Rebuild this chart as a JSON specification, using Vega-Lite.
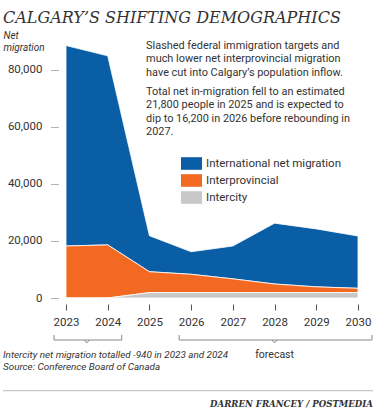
{
  "$schema": "https://vega.github.io/schema/vega-lite/v6.json",
  "width": 292,
  "height": 257,
  "autosize": {"type": "none"},
  "padding": {"left": 66, "top": 41, "right": 17, "bottom": 120},
  "background": "white",
  "config": {"view": {"stroke": null}, "font": "Roboto"},
  "title": {
    "text": "CALGARY’S SHIFTING DEMOGRAPHICS",
    "anchor": "start",
    "frame": "group",
    "font": "DejaVu Serif",
    "fontStyle": "italic",
    "fontWeight": "normal",
    "fontSize": 16,
    "color": "#333333",
    "dx": -63,
    "dy": 11,
    "baseline": "alphabetic",
    "offset": 2
  },
  "layer": [
    {
      "data": {
        "values": [
          {"year": 2023, "type": "International net migration", "value": 70200, "order": 3},
          {"year": 2024, "type": "International net migration", "value": 66200, "order": 3},
          {"year": 2025, "type": "International net migration", "value": 12600, "order": 3},
          {"year": 2026, "type": "International net migration", "value": 7900, "order": 3},
          {"year": 2027, "type": "International net migration", "value": 11500, "order": 3},
          {"year": 2028, "type": "International net migration", "value": 21300, "order": 3},
          {"year": 2029, "type": "International net migration", "value": 20300, "order": 3},
          {"year": 2030, "type": "International net migration", "value": 18300, "order": 3},
          {"year": 2023, "type": "Interprovincial", "value": 18200, "order": 2},
          {"year": 2024, "type": "Interprovincial", "value": 18600, "order": 2},
          {"year": 2025, "type": "Interprovincial", "value": 7300, "order": 2},
          {"year": 2026, "type": "Interprovincial", "value": 6400, "order": 2},
          {"year": 2027, "type": "Interprovincial", "value": 4800, "order": 2},
          {"year": 2028, "type": "Interprovincial", "value": 3000, "order": 2},
          {"year": 2029, "type": "Interprovincial", "value": 2000, "order": 2},
          {"year": 2030, "type": "Interprovincial", "value": 1500, "order": 2},
          {"year": 2023, "type": "Intercity", "value": 0, "order": 1},
          {"year": 2024, "type": "Intercity", "value": 0, "order": 1},
          {"year": 2025, "type": "Intercity", "value": 1900, "order": 1},
          {"year": 2026, "type": "Intercity", "value": 1900, "order": 1},
          {"year": 2027, "type": "Intercity", "value": 1900, "order": 1},
          {"year": 2028, "type": "Intercity", "value": 1900, "order": 1},
          {"year": 2029, "type": "Intercity", "value": 1900, "order": 1},
          {"year": 2030, "type": "Intercity", "value": 1900, "order": 1}
        ]
      },
      "mark": {"type": "area", "stroke": "white", "strokeWidth": 0.8, "opacity": 1},
      "encoding": {
        "x": {
          "field": "year",
          "type": "quantitative",
          "scale": {"domain": [2023, 2030], "nice": false},
          "axis": {
            "values": [2023, 2024, 2025, 2026, 2027, 2028, 2029, 2030],
            "format": "d",
            "domain": false,
            "grid": false,
            "offset": 6,
            "tickSize": 6,
            "tickColor": "#555555",
            "labelPadding": 6,
            "labelFlush": false,
            "labelOverlap": false,
            "labelFontSize": 11.5,
            "labelColor": "#333333",
            "labelFont": "Roboto",
            "title": null
          }
        },
        "y": {
          "field": "value",
          "type": "quantitative",
          "stack": "zero",
          "scale": {"domain": [0, 90000], "nice": false},
          "axis": {
            "values": [0, 20000, 40000, 60000, 80000],
            "format": ",d",
            "domain": false,
            "grid": false,
            "offset": 8,
            "tickSize": 7,
            "tickDash": [1, 1],
            "tickColor": "#666666",
            "labelPadding": 9,
            "labelFlush": false,
            "labelOverlap": false,
            "labelFontSize": 11.5,
            "labelColor": "#333333",
            "labelFont": "Roboto",
            "title": ["Net", "migration"],
            "titleAngle": 0,
            "titleAlign": "left",
            "titleBaseline": "alphabetic",
            "titleX": -55,
            "titleY": -3,
            "titleFont": "Roboto",
            "titleFontStyle": "italic",
            "titleFontWeight": "normal",
            "titleFontSize": 10,
            "titleLineHeight": 12,
            "titleColor": "#333333"
          }
        },
        "color": {
          "field": "type",
          "type": "nominal",
          "scale": {
            "domain": ["International net migration", "Interprovincial", "Intercity"],
            "range": ["#0a5ea5", "#f26a22", "#c8c8c8"]
          },
          "legend": {
            "orient": "none",
            "legendX": 115,
            "legendY": 112,
            "title": null,
            "padding": 0,
            "symbolType": "M-1,-0.6L1,-0.6L1,0.6L-1,0.6Z",
            "symbolSize": 441,
            "symbolStrokeWidth": 0,
            "symbolOpacity": 1,
            "labelFont": "Roboto",
            "labelFontSize": 11.5,
            "labelColor": "#333333",
            "labelOffset": 4,
            "rowPadding": 0
          }
        },
        "order": {"field": "order", "type": "quantitative", "sort": "ascending"}
      }
    },
    {
      "data": {"values": [{"note": "Slashed federal immigration targets and\nmuch lower net interprovincial migration\nhave cut into Calgary’s population inflow."}]},
      "mark": {"type": "text", "align": "left", "baseline": "alphabetic", "lineBreak": "\n", "lineHeight": 13.3, "fontSize": 10.9, "color": "#333333"},
      "encoding": {
        "x": {"datum": 2024.92},
        "y": {"datum": 87200},
        "text": {"field": "note"}
      }
    },
    {
      "data": {"values": [{"note": "Total net in-migration fell to an estimated\n21,800 people in 2025 and is expected to\ndip to 16,200 in 2026 before rebounding in\n2027."}]},
      "mark": {"type": "text", "align": "left", "baseline": "alphabetic", "lineBreak": "\n", "lineHeight": 13.3, "fontSize": 10.9, "color": "#333333"},
      "encoding": {
        "x": {"datum": 2024.92},
        "y": {"datum": 71100},
        "text": {"field": "note"}
      }
    },
    {
      "data": {"values": [
        {"period": "2023–2024", "from": 2023, "to": 2024, "mid": 2023.5},
        {"period": "forecast", "from": 2026, "to": 2030, "mid": 2028}
      ]},
      "layer": [
        {
          "mark": {"type": "rule", "color": "#888888", "strokeWidth": 1, "xOffset": -12, "x2Offset": 14},
          "encoding": {
            "x": {"field": "from", "type": "quantitative"},
            "x2": {"field": "to"},
            "y": {"datum": -14710}
          }
        },
        {
          "mark": {"type": "rule", "color": "#888888", "strokeWidth": 1, "xOffset": -12},
          "encoding": {
            "x": {"field": "from", "type": "quantitative"},
            "y": {"datum": -12960},
            "y2": {"datum": -14710}
          }
        },
        {
          "mark": {"type": "rule", "color": "#888888", "strokeWidth": 1, "xOffset": 14},
          "encoding": {
            "x": {"field": "to", "type": "quantitative"},
            "y": {"datum": -12960},
            "y2": {"datum": -14710}
          }
        },
        {
          "mark": {"type": "point", "shape": "M-1,0L0,1.2L1,0", "filled": false, "stroke": "#888888", "strokeWidth": 1, "size": 25, "opacity": 1},
          "encoding": {
            "x": {"field": "mid", "type": "quantitative"},
            "y": {"datum": -14710}
          }
        },
        {
          "transform": [{"filter": "datum.period === 'forecast'"}],
          "mark": {"type": "text", "align": "center", "baseline": "alphabetic", "fontSize": 10.5, "color": "#333333"},
          "encoding": {
            "x": {"field": "mid", "type": "quantitative"},
            "y": {"datum": -21120},
            "text": {"field": "period"}
          }
        }
      ]
    },
    {
      "data": {"values": [{"note": "Intercity net migration totalled -940 in 2023 and 2024"}]},
      "mark": {"type": "text", "align": "left", "baseline": "alphabetic", "fontSize": 9.9, "fontStyle": "italic", "color": "#333333"},
      "encoding": {
        "x": {"datum": 2021.49},
        "y": {"datum": -21120},
        "text": {"field": "note"}
      }
    },
    {
      "data": {"values": [{"note": "Source: Conference Board of Canada"}]},
      "mark": {"type": "text", "align": "left", "baseline": "alphabetic", "fontSize": 9.9, "fontStyle": "italic", "color": "#333333"},
      "encoding": {
        "x": {"datum": 2021.49},
        "y": {"datum": -25110},
        "text": {"field": "note"}
      }
    },
    {
      "data": {"values": [{"note": "divider"}]},
      "mark": {"type": "rule", "color": "#c8c8c8", "strokeWidth": 1.2},
      "encoding": {
        "x": {"datum": 2021.49},
        "x2": {"datum": 2030.36},
        "y": {"datum": -32470}
      }
    },
    {
      "data": {"values": [{"note": "DARREN FRANCEY / POSTMEDIA"}]},
      "mark": {"type": "text", "align": "right", "baseline": "alphabetic", "font": "DejaVu Serif", "fontSize": 8.6, "fontStyle": "italic", "fontWeight": "bold", "color": "#333333"},
      "encoding": {
        "x": {"datum": 2030.36},
        "y": {"datum": -38070},
        "text": {"field": "note"}
      }
    }
  ]
}
